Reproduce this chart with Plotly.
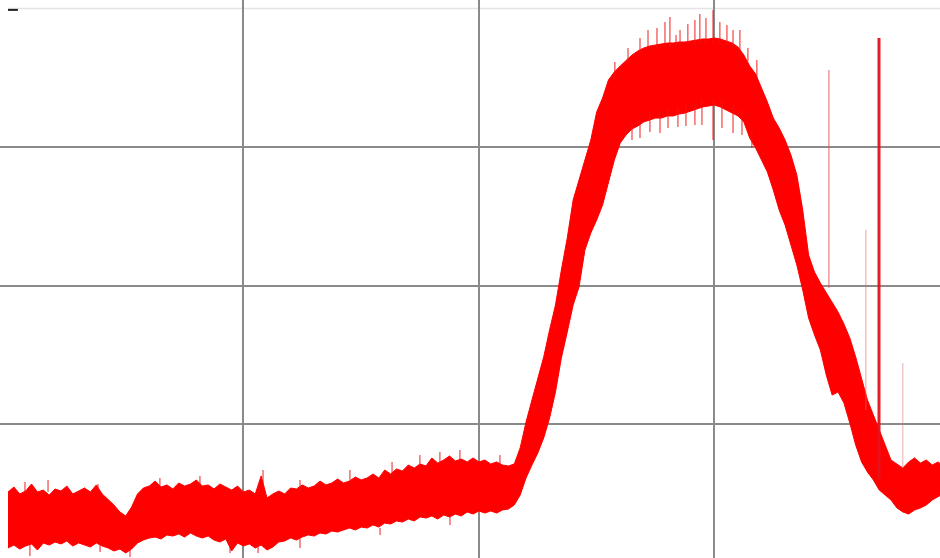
import plotly.graph_objects as go

# Time base (divisions)
t = [0.000, 0.025, 0.050, 0.075, 0.100, 0.125, 0.150, 0.175, 0.200, 0.225,
     0.250, 0.275, 0.300, 0.325, 0.350, 0.375, 0.400, 0.425, 0.450, 0.475,
     0.500, 0.525, 0.550, 0.575, 0.600, 0.625, 0.650, 0.675, 0.700, 0.725,
     0.750, 0.775, 0.800, 0.825, 0.850, 0.875, 0.900, 0.925, 0.950, 0.975,
     1.000, 1.025, 1.050, 1.075, 1.100, 1.125, 1.150, 1.175, 1.200, 1.225,
     1.250, 1.275, 1.300, 1.325, 1.350, 1.375, 1.400, 1.425, 1.450, 1.475,
     1.500, 1.525, 1.550, 1.575, 1.600, 1.625, 1.650, 1.675, 1.700, 1.725,
     1.750, 1.775, 1.800, 1.825, 1.850, 1.875, 1.900, 1.925, 1.950, 1.975,
     2.000, 2.025, 2.050, 2.075, 2.100, 2.125, 2.150, 2.175, 2.200, 2.225,
     2.250, 2.275, 2.300, 2.325, 2.350, 2.375, 2.400, 2.425, 2.450, 2.475,
     2.500, 2.525, 2.550, 2.575, 2.600, 2.625, 2.650, 2.675, 2.700, 2.725,
     2.750, 2.775, 2.800, 2.825, 2.850, 2.875, 2.900, 2.925, 2.950, 2.975,
     3.000, 3.025, 3.050, 3.075, 3.100, 3.125, 3.150, 3.175, 3.200, 3.225,
     3.250, 3.275, 3.300, 3.325, 3.350, 3.375, 3.400, 3.425, 3.450, 3.475,
     3.500, 3.525, 3.550, 3.575, 3.600, 3.625, 3.650, 3.675, 3.700, 3.725,
     3.750, 3.775, 3.800, 3.825, 3.850, 3.875, 3.900, 3.925, 3.950, 3.970]

# Upper envelope of the trace (divisions)
upper = [0.509, 0.545, 0.495, 0.516, 0.567, 0.509, 0.523, 0.487, 0.531, 0.516,
         0.552, 0.495, 0.516, 0.538, 0.509, 0.560, 0.495, 0.458, 0.415, 0.365,
         0.336, 0.401, 0.495, 0.538, 0.552, 0.588, 0.545, 0.560, 0.531, 0.574,
         0.552, 0.567, 0.596, 0.552, 0.560, 0.531, 0.567, 0.545, 0.523, 0.552,
         0.509, 0.523, 0.495, 0.625, 0.466, 0.495, 0.516, 0.495, 0.538, 0.531,
         0.560, 0.538, 0.552, 0.588, 0.560, 0.574, 0.603, 0.574, 0.588, 0.617,
         0.596, 0.610, 0.639, 0.610, 0.668, 0.639, 0.675, 0.661, 0.704, 0.682,
         0.711, 0.697, 0.755, 0.718, 0.740, 0.769, 0.733, 0.747, 0.726, 0.755,
         0.726, 0.740, 0.711, 0.726, 0.704, 0.697, 0.711, 0.827, 1.014, 1.173,
         1.332, 1.484, 1.679, 1.859, 2.112, 2.343, 2.617, 2.762, 2.906, 3.051,
         3.253, 3.354, 3.484, 3.542, 3.585, 3.628, 3.664, 3.693, 3.715, 3.729,
         3.736, 3.744, 3.751, 3.751, 3.758, 3.758, 3.765, 3.773, 3.780, 3.780,
         3.787, 3.780, 3.765, 3.751, 3.722, 3.664, 3.585, 3.527, 3.426, 3.325,
         3.209, 3.137, 3.051, 2.942, 2.798, 2.545, 2.220, 2.097, 2.018, 1.946,
         1.881, 1.809, 1.722, 1.621, 1.484, 1.332, 1.173, 1.065, 0.957, 0.848,
         0.740, 0.711, 0.682, 0.726, 0.755, 0.718, 0.740, 0.704, 0.726, 0.697]

# Lower envelope of the trace (divisions)
lower = [0.105, 0.126, 0.097, 0.119, 0.134, 0.090, 0.141, 0.126, 0.148, 0.134,
         0.155, 0.119, 0.141, 0.126, 0.112, 0.141, 0.119, 0.105, 0.083, 0.097,
         0.069, 0.097, 0.141, 0.162, 0.177, 0.184, 0.170, 0.199, 0.191, 0.206,
         0.184, 0.213, 0.191, 0.177, 0.191, 0.162, 0.148, 0.170, 0.083, 0.141,
         0.119, 0.134, 0.105, 0.126, 0.090, 0.112, 0.148, 0.155, 0.177, 0.162,
         0.184, 0.199, 0.191, 0.213, 0.206, 0.227, 0.220, 0.235, 0.249, 0.235,
         0.256, 0.249, 0.271, 0.256, 0.285, 0.278, 0.300, 0.292, 0.314, 0.300,
         0.329, 0.321, 0.336, 0.314, 0.343, 0.329, 0.350, 0.336, 0.365, 0.350,
         0.372, 0.357, 0.372, 0.357, 0.379, 0.386, 0.415, 0.487, 0.610, 0.704,
         0.791, 0.899, 1.043, 1.231, 1.477, 1.664, 1.859, 1.989, 2.256, 2.379,
         2.473, 2.581, 2.747, 2.906, 3.029, 3.087, 3.130, 3.152, 3.181, 3.195,
         3.209, 3.209, 3.224, 3.224, 3.238, 3.245, 3.260, 3.274, 3.289, 3.296,
         3.303, 3.289, 3.267, 3.245, 3.224, 3.181, 3.065, 2.993, 2.906, 2.819,
         2.690, 2.545, 2.437, 2.292, 2.148, 1.968, 1.765, 1.643, 1.534, 1.354,
         1.209, 1.231, 1.152, 1.007, 0.848, 0.726, 0.653, 0.596, 0.523, 0.487,
         0.451, 0.394, 0.365, 0.350, 0.379, 0.394, 0.415, 0.451, 0.473, 0.495]

# Short noise excursions beyond the envelope (time, start, end)
burst_t = [0.072, 0.170, 0.382, 0.645, 0.815, 1.083, 1.240, 1.452, 1.631, 1.749,
           1.834, 1.919, 2.089,
           0.093, 0.391, 0.518, 0.943, 1.062, 1.240, 1.580, 1.877,
           2.577, 2.633, 2.684, 2.718, 2.756, 2.790, 2.811, 2.837, 2.854, 2.887,
           2.917, 2.938, 2.964, 2.994, 3.023, 3.053, 3.079, 3.108, 3.142, 3.180,
           2.650, 2.684, 2.726, 2.769, 2.803, 2.845, 2.879, 2.917, 2.947, 2.994,
           3.032, 3.079, 3.117, 3.159]
burst_from = [0.50, 0.51, 0.52, 0.55, 0.55, 0.55, 0.52, 0.58, 0.62, 0.68,
              0.72, 0.73, 0.70,
              0.14, 0.13, 0.10, 0.16, 0.13, 0.17, 0.25, 0.33,
              3.50, 3.60, 3.68, 3.70, 3.71, 3.72, 3.72, 3.73, 3.73, 3.74,
              3.74, 3.75, 3.75, 3.75, 3.75, 3.74, 3.72, 3.70, 3.62, 3.50,
              3.18, 3.20, 3.25, 3.26, 3.28, 3.29, 3.30, 3.32, 3.34, 3.35,
              3.34, 3.30, 3.27, 3.12]
burst_to = [0.581, 0.596, 0.567, 0.610, 0.625, 0.668, 0.596, 0.668, 0.726, 0.776,
            0.798, 0.812, 0.776,
            0.047, 0.076, 0.040, 0.069, 0.069, 0.105, 0.199, 0.271,
            3.614, 3.715, 3.787, 3.845, 3.859, 3.903, 3.939, 3.809, 3.845, 3.888,
            3.917, 3.960, 3.931, 3.989, 3.903, 3.881, 3.845, 3.845, 3.715, 3.628,
            3.051, 3.065, 3.108, 3.101, 3.137, 3.144, 3.152, 3.159, 3.159, 3.051,
            3.137, 3.101, 3.087, 2.993]

# Isolated transients on the falling edge (time, peak, base)
spike_t = [3.486, 3.643, 3.699, 3.800]
spike_peak = [3.556, 2.401, 3.787, 1.440]
spike_base = [1.982, 1.100, 0.600, 0.682]
spike_color = ["rgba(225,80,80,0.55)", "rgba(235,100,100,0.45)",
               "rgba(228,18,30,0.95)", "rgba(215,120,120,0.5)"]
spike_width = [1.6, 1.4, 3.0, 1.2]

RED = "#ff0000"

fig = go.Figure()

fig.add_trace(go.Scatter(
    x=t, y=lower, mode="lines",
    line=dict(color=RED, width=1), hoverinfo="skip", showlegend=False,
))
fig.add_trace(go.Scatter(
    x=t, y=upper, mode="lines", fill="tonexty", fillcolor=RED,
    line=dict(color=RED, width=1), hoverinfo="skip", showlegend=False,
))

# noise excursions drawn as one segmented trace
bx, by = [], []
for bt, b0, b1 in zip(burst_t, burst_from, burst_to):
    bx += [bt, bt, None]
    by += [b0, b1, None]
fig.add_trace(go.Scatter(
    x=bx, y=by, mode="lines", connectgaps=False,
    line=dict(color="rgba(238,20,20,0.6)", width=1.6),
    hoverinfo="skip", showlegend=False,
))

for st, sp, sb, sc, sw in zip(spike_t, spike_peak, spike_base, spike_color, spike_width):
    fig.add_trace(go.Scatter(
        x=[st, st], y=[sb, sp], mode="lines",
        line=dict(color=sc, width=sw), hoverinfo="skip", showlegend=False,
    ))

GRID = "#8a8a8a"

fig.update_layout(
    width=940, height=558, autosize=False,
    margin=dict(l=0, r=0, t=0, b=0),
    paper_bgcolor="white", plot_bgcolor="white",
    xaxis=dict(range=[-0.034, 3.958], tickvals=[1, 2, 3], showticklabels=False,
               showgrid=True, gridcolor=GRID, gridwidth=1.5, zeroline=False,
               showline=False, ticks=""),
    yaxis=dict(range=[0.0325, 4.0614], tickvals=[1, 2, 3], showticklabels=False,
               showgrid=True, gridcolor=GRID, gridwidth=1.5, zeroline=False,
               showline=False, ticks=""),
    shapes=[
        # faint top frame edge
        dict(type="line", xref="x", yref="y", x0=0, x1=4, y0=4, y1=4,
             line=dict(color="#e4e4e4", width=1.5), layer="below"),
        # small dark marker at the top-left corner
        dict(type="line", xref="x", yref="y", x0=0, x1=0.042, y0=3.99, y1=3.99,
             line=dict(color="#222222", width=2)),
    ],
)

fig.write_html("out.html")
